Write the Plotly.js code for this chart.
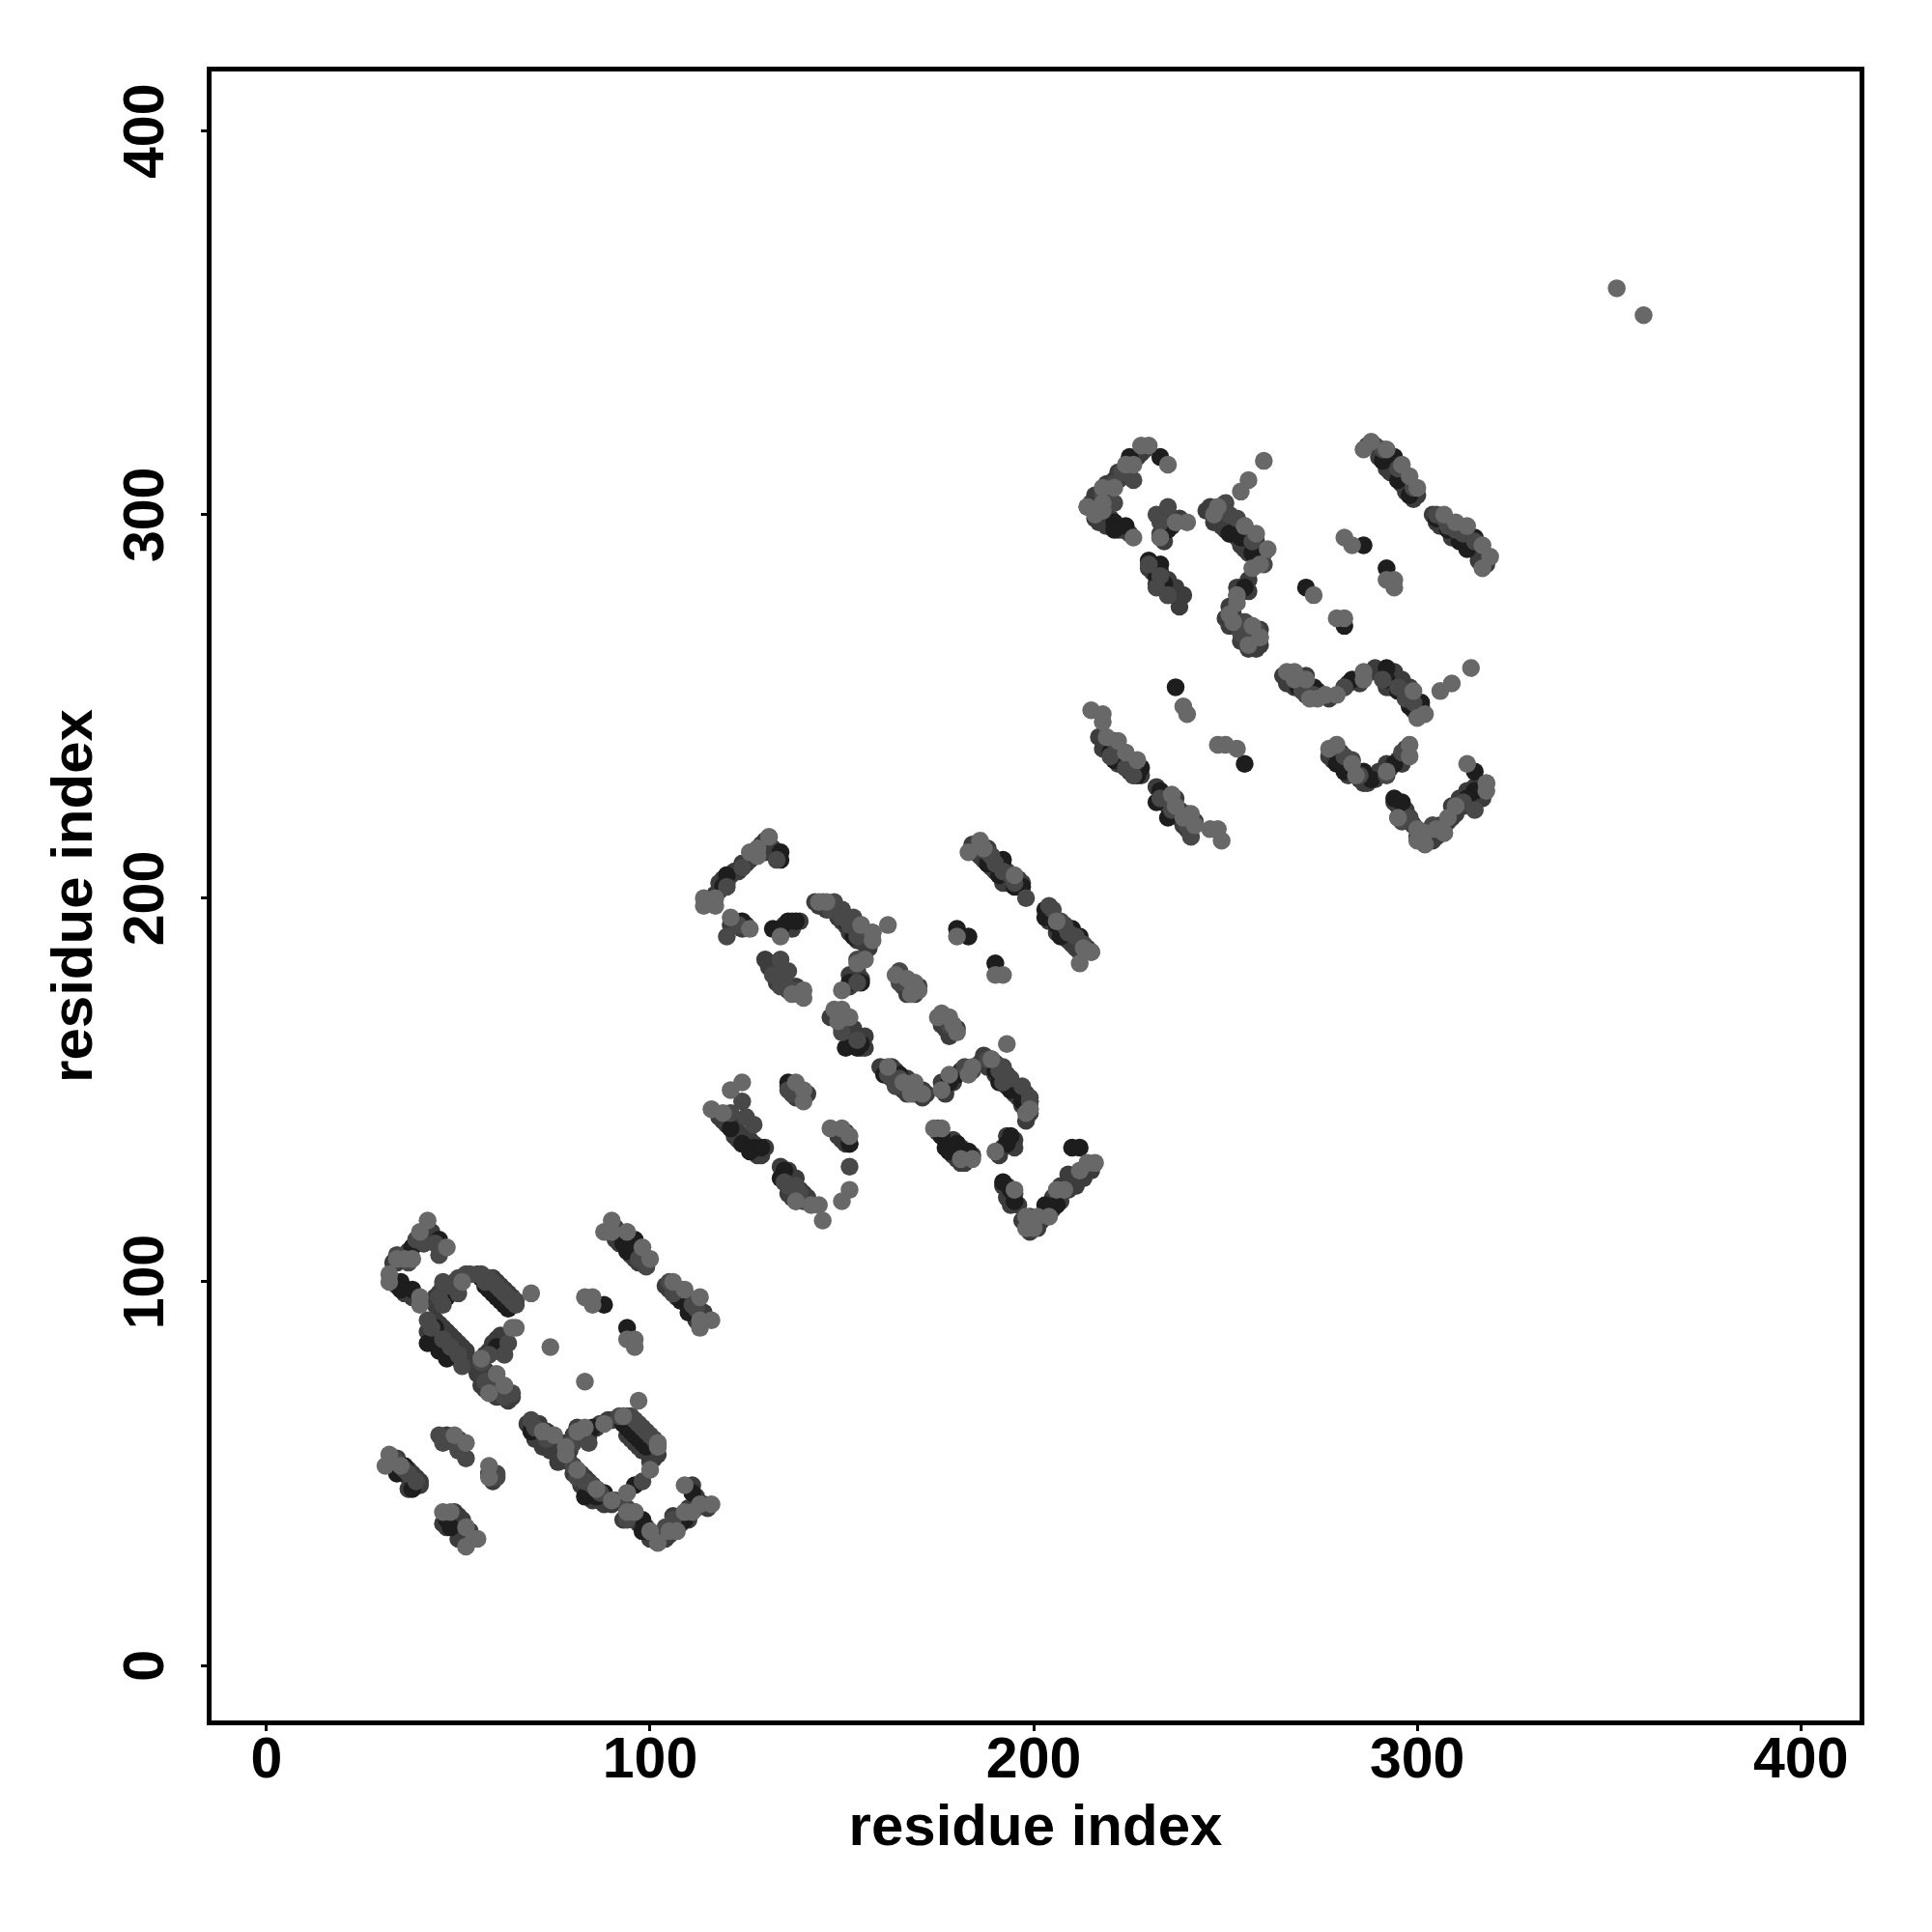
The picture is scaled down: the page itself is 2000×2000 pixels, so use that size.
<!DOCTYPE html>
<html><head><meta charset="utf-8">
<script src="https://cdn.plot.ly/plotly-3.0.1.min.js"></script>
<style>html,body{margin:0;padding:0;background:#fff}</style></head>
<body><div id="chart" style="width:2000px;height:2000px"></div>
<script>
const tickValues=[0,100,200,300,400];
const axisLabel="residue index";
const lowerContacts=[[33,105],[34,105],[35,106],[36,107],[37,108],[38,109],[39,110],[40,111],[41,112],[42,113],[43,113],[41,110],[33,100],[34,99],[36,98],[36,97],[37,97],[38,96],[39,96],
[56,101],[57,101],[58,100],[59,99],[60,98],[61,97],[62,96],[63,95],[64,94],[64,96],[63,97],[62,98],[61,99],[60,100],[59,101],
[44,90],[45,89],[46,88],[47,87],[48,86],[49,85],[50,84],[51,83],[52,82],[43,87],[44,86],[45,85],[46,84],[47,83],[48,82],[49,81],[50,80],[51,79],[43,89],[42,87],[52,80],
[44,96],[45,97],[46,99],[48,99],[49,99],[44,94],[45,94],[60,85],[61,86],[59,84],[58,82],[57,81],[60,82],[56,80],
[54,78],[55,76],[56,75],[57,77],[58,76],[59,73],[60,72],[61,71],[62,70],[63,69],[64,70],[63,71],[60,70],[57,72],[56,73],
[89,113],[91,114],[92,112],[93,111],[94,110],[95,109],[96,108],[97,107],[98,106],[99,104],[95,107],[96,106],[97,105],[98,105],[91,111],[92,110],
[104,99],[105,98],[106,97],[107,96],[108,96],[109,95],[110,94],[111,93],[112,92],[113,91],[114,90],[107,98],[106,99],[109,97],[112,94],[114,92],[112,90],
[33,53],[34,54],[35,51],[36,50],[37,49],[38,48],[37,51],[38,50],[39,49],[40,48],[40,47],[37,46],[47,60],[50,59],[58,50],[59,48],
[46,37],[47,36],[48,37],[49,36],[50,35],[51,34],[52,33],[53,34],[50,39],[51,38],[49,40],[52,36],[53,35],[50,33],
[68,63],[69,63],[70,62],[71,61],[72,60],[73,59],[74,58],[75,57],[76,56],[77,55],[71,63],[73,61],[75,59],[77,58],[79,53],[80,50],[76,53],[79,56],[70,59],[72,57],[74,56],
[80,52],[81,50],[82,50],[83,49],[84,48],[85,47],[86,46],[87,45],[88,44],[89,43],[90,42],[82,47],[83,46],[84,44],[85,43],[87,43],[88,42],[91,43],
[93,64],[94,64],[95,63],[96,62],[97,61],[98,60],[99,59],[100,58],[101,57],[94,60],[95,59],[96,58],[97,57],[98,56],[100,54],[102,55],[101,54],[100,53],
[80,60],[81,62],[82,60],[83,61],[84,60],[86,62],[87,63],[89,64],[90,64],
[93,38],[94,40],[95,39],[96,38],[97,37],[99,36],[100,33],[101,34],[102,32],[103,33],[104,33],[105,34],[106,36],[107,37],[108,37],[110,38],[110,41],[112,41],[114,42],[115,41],[106,39],[112,44],[111,47]];
const middleContacts=[[115,199],[116,199],[117,201],[118,202],[118,204],[119,205],[120,204],[120,206],[121,206],[122,207],[123,207],[124,209],[125,209],[126,210],[127,212],[128,212],[129,214],[130,215],[131,214],[132,213],[130,212],[129,212],
[121,193],[122,194],[123,193],[125,193],[124,192],[135,193],[136,193],[137,192],[134,191],[137,194],[139,194],
[130,184],[131,182],[132,183],[133,181],[134,180],[135,179],[136,177],[137,176],[133,178],[134,179],[135,177],[138,176],[136,176],[138,177],[139,175],[132,181],[131,183],
[143,199],[144,198],[146,197],[147,197],[148,198],[149,197],[149,195],[150,194],[151,195],[151,193],[152,193],[152,191],[153,192],[154,191],[155,189],[156,188],[156,190],[157,187],[156,191],[155,191],[154,189],
[155,184],[154,181],[153,179],[152,180],[155,179],[152,177],
[147,169],[148,170],[149,168],[150,166],[150,168],[151,167],[152,164],[152,162],[153,163],[154,164],[155,163],[156,164],[155,161],[153,166],[156,161],
[165,179],[166,177],[167,178],[168,177],[169,175],[167,175],[170,177],[177,169],[176,167],[177,166],[178,164],[180,166],
[184,214],[185,212],[186,211],[187,210],[188,209],[189,208],[190,207],[191,206],[192,205],[193,204],[194,204],[196,203],[188,213],[190,210],[192,208],[193,207],[194,206],[196,205],[197,204],[192,204],
[204,196],[205,195],[206,193],[204,194],[206,191],[207,191],[208,190],[209,189],[210,188],[211,187],[212,186],[210,191],[211,189],[212,188],[213,187],[214,187],[215,186],[208,193],[209,192],
[118,143],[119,142],[120,141],[121,142],[122,140],[123,139],[124,137],[125,136],[126,135],[127,134],[128,133],[123,137],[124,136],[122,138],[125,138],[126,137],[127,136],[128,135],[130,135],[129,133],
[134,130],[135,128],[136,129],[135,126],[136,125],[137,124],[138,123],[139,124],[137,126],[138,127],[138,121],[140,123],[140,121],[141,122],[136,123],[137,122],
[136,151],[137,150],[139,150],[138,148],[141,149],[149,138],[150,137],[151,136],[151,139],[152,136],
[160,156],[161,155],[162,154],[163,153],[164,152],[165,151],[166,150],[163,156],[164,155],[165,154],[167,153],[168,151],[167,149],[169,149],[171,150],[172,149],[171,148],[169,151],[170,150],
[178,153],[179,152],[177,149],[176,152],[181,155],[186,157],[187,159],[188,156],
[189,158],[190,157],[191,156],[192,155],[193,154],[194,152],[195,151],[196,150],[197,149],[198,149],[199,147],[199,145],[190,154],[191,153],[192,152],[193,151],[194,150],[195,149],[196,148],[197,146],[198,146],[199,144],[198,142],
[175,139],[176,138],[177,137],[178,136],[179,137],[180,136],[181,135],[182,134],[183,133],[184,133],[178,134],[179,133],[180,132],[181,131],[182,131],[175,140],
[191,134],[192,135],[193,136],[194,136],[195,137],[195,135],[193,138],[191,133],[192,125],[193,125],[195,123],[193,122],[194,120],[196,120],
[197,116],[199,115],[199,117],[201,114],[202,116],[203,118],[204,118],[205,119],[205,122],[207,121],[207,123],[207,125],[209,124],[209,126],[211,125],[211,127],[212,128],[213,127],[215,129],[213,129],[199,113],[201,116],[209,128],[210,127]];
const upperContacts=[[214,302],[215,303],[216,305],[217,305],[218,306],[219,308],[220,308],[221,309],[222,311],[223,311],[224,312],[225,313],[226,314],[227,315],[228,316],[229,317],[216,299],[217,298],[219,297],[220,299],[223,296],[222,296],[225,295],[216,301],[218,305],[222,309],[224,310],
[233,295],[234,297],[236,299],[238,299],[234,293],[236,297],
[230,286],[231,285],[232,284],[233,283],[234,282],[235,281],[236,280],[237,279],[238,278],[231,287],[233,285],[235,283],[237,281],[239,279],[233,281],[235,279],[238,276],[232,282],
[245,301],[247,298],[249,301],[248,299],[249,297],[250,299],[250,296],[252,297],[252,295],[253,294],[254,295],[254,292],[255,291],[256,294],[256,290],[257,292],[258,293],[258,289],[259,291],[259,289],[260,290],[246,302],
[258,287],[256,283],[254,281],[256,280],[253,281],[253,279],
[251,276],[250,273],[252,274],[251,271],[253,271],[254,271],[255,272],[255,269],[256,268],[256,270],[257,267],[258,269],[259,266],[258,265],[256,265],[258,267],[259,270],[254,267],
[287,318],[289,318],[290,315],[291,315],[292,314],[293,313],[294,312],[295,311],[296,310],[297,309],[298,308],[299,307],[298,305],[296,308],[295,309],[293,311],[292,312],[299,304],[297,306],[300,305],
[304,300],[305,298],[306,297],[307,298],[308,298],[309,296],[310,295],[311,295],[312,294],[313,293],[314,292],[315,291],[316,290],[317,289],[317,287],[314,294],[316,292],[318,287],[316,288],[309,294],
[217,242],[218,239],[219,240],[220,240],[221,239],[222,238],[223,238],[223,236],[224,235],[225,235],[226,234],[227,233],[228,232],[222,235],[225,233],[226,232],
[232,229],[233,226],[234,227],[234,225],[235,224],[236,225],[237,222],[238,221],[238,223],[240,220],[239,219],[240,218],[242,220],[237,226],[235,226],[240,222],
[265,258],[266,256],[267,257],[268,255],[269,256],[270,255],[271,253],[272,254],[273,253],[274,254],[269,258],[271,258],[277,252],[282,256],[285,256],[288,259],[289,260],[290,259],[291,259],[293,258],[294,256],[292,255],[293,255],[295,255],[296,254],[297,253],[297,252],[298,251],[300,251],[300,249],[299,249],[301,250],[294,259],[296,257],[298,255],[299,251],
[277,237],[278,236],[279,237],[280,235],[281,235],[282,234],[282,232],[283,233],[284,232],[285,231],[286,230],[287,230],[283,234],[278,238],[280,238],[289,231],[290,233],[293,234],[292,235],[295,236],[296,235],[297,238],[297,239],
[294,225],[295,224],[296,222],[298,220],[297,223],[299,219],[300,216],[301,215],[303,215],[303,217],[304,215],[305,216],[306,218],[306,219],[307,217],[308,220],[309,221],[310,222],[309,224],[311,224],[311,226],[312,224],[313,226],[313,228],[314,226],[315,229],[316,229],[316,227],[317,228],[318,230],[317,226]];
const lightX=[42,40,47,34,36,38,32,32,40,40,51,65,64,56,60,62,58,69,74,83,97,83,85,85,94,96,96,90,88,90,94,98,100,106,109,113,116,113,113,
 32,31,35,49,52,58,58,46,48,52,52,54,55,72,75,78,78,81,83,88,93,100,102,102,94,81,86,90,94,96,100,102,105,107,109,111,113,116,109,
 131,128,126,128,114,114,117,117,121,126,134,140,140,137,144,146,155,158,158,162,156,154,150,148,150,152,149,164,167,169,170,168,176,175,178,179,180,193,180,190,192,183,186,187,195,206,213,215,212,
 124,121,116,119,138,140,140,147,150,152,138,142,144,145,152,150,162,166,169,168,171,176,178,183,184,189,199,198,174,176,184,181,190,195,198,198,200,201,204,206,208,214,216,212,
 228,230,235,224,226,218,221,214,216,218,218,226,240,237,233,260,256,254,248,247,255,258,261,259,257,253,253,251,252,257,259,256,259,281,283,294,294,292,273,279,281,
 288,286,292,296,298,300,307,310,313,317,319,317,215,218,218,219,222,224,227,236,237,239,241,242,246,248,249,239,240,248,250,253,
 266,268,268,271,272,274,276,279,286,286,299,302,300,306,309,314,277,279,283,284,292,298,298,313,318,318,310,308,307,305,302,300,302,300,295,352,359];
const lightY=[116,113,109,106,106,106,102,100,96,94,100,88,88,80,76,73,71,97,83,74,69,96,96,94,85,85,83,116,113,113,113,109,106,100,98,96,90,90,88,
 55,52,52,60,58,52,49,40,40,36,31,33,33,61,60,57,55,61,62,63,65,51,58,57,45,51,46,43,40,40,35,32,35,35,40,40,42,42,47,
 216,213,212,211,200,198,200,198,195,192,190,176,174,175,199,199,193,191,189,193,184,183,176,171,171,169,168,180,179,178,176,175,170,169,169,167,165,162,190,180,180,212,215,213,206,194,187,186,183,
 152,150,145,144,152,150,147,140,140,138,121,120,120,116,124,121,156,152,152,149,149,150,154,154,156,158,145,144,140,140,132,132,134,124,117,114,114,117,117,124,124,131,131,129,
 318,318,313,313,313,307,307,302,300,303,301,294,298,298,294,314,309,306,302,300,297,295,291,287,286,279,277,274,272,271,268,266,268,294,292,283,281,283,279,273,273,
 319,317,317,313,310,307,300,298,297,292,289,286,249,248,246,242,241,238,236,227,224,221,222,219,218,218,215,250,248,240,240,239,
 259,259,257,257,252,252,253,253,257,259,254,248,247,254,256,260,239,240,235,232,233,237,240,235,230,228,224,221,217,218,214,215,217,218,221,359,352];
const midX=[45,46,48,50,52,53,55,56,57,58,59,60,61,62,63,64,65,65,63,62,58,42,43,46,48,50,51,56,57,59,60,62,64,
 34,37,39,41,44,45,46,49,50,69,70,73,80,81,84,92,93,94,95,96,97,98,99,100,101,102,102,98,94,80,81,83,85,87,90,
 97,99,105,106,108,111,112,33,34,36,37,39,45,46,49,50,52,58,60,60,
 94,96,104,106,
 133,124,120,123,120,134,136,134,132,134,135,137,145,147,148,150,150,153,152,155,154,157,154,154,150,154,
 165,165,166,178,186,188,189,190,192,194,195,198,204,205,207,208,209,211,213,121,124,125,127,136,137,135,136,138,139,152,162,165,164,
 192,194,197,199,199,182,184,188,191,192,
 223,226,221,218,221,232,235,233,230,233,232,235,251,250,253,255,257,260,258,255,254,
 291,295,299,305,307,308,310,312,315,
 221,220,224,226,233,236,240,241,
 270,273,281,291,295,297,299,281,283,285,292,296,
 312,315,304,296,298];
const midY=[96,94,99,101,102,102,102,102,100,101,100,99,98,97,96,95,95,94,84,81,81,90,88,85,83,81,78,79,74,74,72,70,71,
 107,105,111,110,110,107,100,100,97,64,62,59,58,59,58,65,65,65,65,64,63,62,61,60,59,58,57,48,41,52,49,48,47,45,43,
 106,104,100,97,98,94,93,54,53,51,50,48,60,58,58,56,54,50,50,49,
 38,40,36,38,
 210,208,203,193,190,184,181,179,180,177,178,176,199,197,199,197,195,195,193,193,190,190,184,178,165,163,
 181,178,178,167,213,212,211,209,207,206,204,200,198,197,194,193,191,190,188,144,147,143,141,150,149,126,125,125,123,130,154,153,151,
 156,153,151,148,147,156,155,158,155,152,
 311,309,308,305,303,300,302,298,287,284,281,279,300,303,299,297,293,287,270,272,269,
 317,312,307,300,299,297,296,295,293,
 241,237,234,232,226,223,219,216,
 254,253,255,257,255,252,251,237,236,232,232,238,
 225,223,219,220,221];
const darkX=[38,35,35,38,47,47,45,44,42,45,47,56,57,58,59,60,61,62,63,60,88,94,96,93,94,99,108,110,36,34,38,48,47,69,93,94,95,96,97,98,99,85,96,83,84,86,88,98,98,109,111,
 124,134,134,136,138,120,119,124,132,134,150,151,153,153,152,155,158,151,154,155,180,183,190,189,192,188,191,197,195,203,203,206,210,207,212,
 121,124,127,126,129,136,135,134,152,179,177,183,165,161,164,178,180,192,194,195,191,194,197,190,192,176,180,178,183,194,193,203,206,210,212,
 225,233,221,221,224,235,233,230,233,232,234,251,254,255,257,255,286,292,271,281,294,291,295,298,305,308,311,315,313,
 220,221,224,228,227,233,232,236,235,255,237,
 269,273,281,283,292,292,295,298,301,279,281,286,288,294,294,315,315,313,298,296,295];
const darkY=[109,100,98,98,98,96,111,88,84,82,80,101,99,98,97,96,95,94,93,83,94,88,111,110,108,105,95,92,52,50,46,36,38,61,63,62,61,60,59,58,57,62,47,44,45,44,45,38,35,38,45,
 208,212,210,194,194,206,203,194,192,192,197,194,192,190,178,178,191,161,161,162,192,190,183,211,210,209,206,203,203,197,195,193,192,190,190,
 140,136,135,134,135,152,129,127,136,135,135,134,154,154,153,152,154,126,124,121,152,150,147,155,152,138,136,134,133,138,136,120,120,135,135,
 315,315,298,296,297,296,294,288,287,284,282,295,294,294,290,281,292,286,281,271,315,314,309,305,299,296,293,294,291,
 238,236,234,234,232,228,225,224,221,235,255,
 255,255,255,257,260,257,254,250,251,235,233,233,231,226,235,233,228,226,221,225,221];
const shadeDark="#1d1d1d", shadeFill="#3c3c3c", shadeMid="#484848", shadeLight="#686868";
const fill=[...lowerContacts,...middleContacts,...upperContacts];
const mk=c=>({size:18.5,color:c,line:{width:0},opacity:1});
const tr=(x,y,c)=>({x:x,y:y,type:"scatter",mode:"markers",marker:mk(c),hoverinfo:"skip"});
const traces=[tr(fill.map(p=>p[0]),fill.map(p=>p[1]),shadeFill),tr(darkX,darkY,shadeDark),tr(midX,midY,shadeMid),tr(lightX,lightY,shadeLight)];
const fam="Liberation Sans, Arial, sans-serif";
const tickFont={family:fam,size:59,color:"#000",weight:700};
const titleFont={family:fam,size:60,color:"#000",weight:700};
const axis=(extra)=>Object.assign({tickmode:"array",tickvals:tickValues,ticktext:tickValues.map(String),
  showgrid:false,zeroline:false,showline:true,mirror:true,linewidth:5,linecolor:"#000",ticks:"outside",ticklen:6,tickwidth:3,tickcolor:"#000",tickfont:tickFont},extra);
Plotly.newPlot("chart",traces,{
 width:2000,height:2000,showlegend:false,paper_bgcolor:"#fff",plot_bgcolor:"#fff",
 margin:{l:218.5,r:75,t:74,b:218.5,pad:0},
 xaxis:axis({range:[-14.33,415.3],ticklabelstandoff:-23,title:{text:axisLabel,font:titleFont,standoff:18}}),
 yaxis:axis({range:[-14.33,415.5],tickangle:-90,ticklabelstandoff:15,ticklabelshift:9,title:{text:axisLabel,font:titleFont,standoff:3}})
},{displayModeBar:false,staticPlot:true});
</script></body></html>
